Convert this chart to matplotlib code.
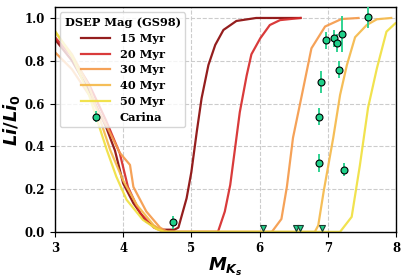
import numpy as np
import matplotlib
matplotlib.use('Agg')
from matplotlib import pyplot as plt

plt.rcParams['mathtext.fontset'] = 'custom'
plt.rcParams['mathtext.it'] = 'DejaVu Sans:italic:bold'
plt.rcParams['mathtext.rm'] = 'DejaVu Sans:bold'
plt.rcParams['mathtext.bf'] = 'DejaVu Sans:bold'

# изохроны DSEP: x = M_Ks, y = Li/Li0
ages = ['15 Myr', '20 Myr', '30 Myr', '40 Myr', '50 Myr']
colors = ['#8b0a0a', '#d62a2a', '#f59a4a', '#f5b94a', '#f0e040']

x15 = [3.0, 3.25, 3.5, 3.75, 3.88, 4.0, 4.15, 4.34, 4.54, 4.62, 4.75, 4.81, 4.93,
       5.0, 5.08, 5.15, 5.25, 5.35, 5.47, 5.66, 5.95, 6.6]
y15 = [0.90, 0.80, 0.66, 0.49, 0.38, 0.227, 0.134, 0.048, 0.01, 0.01, 0.01, 0.02, 0.157,
       0.28, 0.47, 0.625, 0.78, 0.874, 0.944, 0.986, 1.0, 1.0]
x20 = [3.0, 3.25, 3.5, 3.75, 3.95, 4.07, 4.25, 4.45, 4.6, 5.39, 5.49, 5.57, 5.64,
       5.71, 5.81, 5.88, 6.01, 6.15, 6.30, 6.6]
y20 = [0.91, 0.82, 0.69, 0.52, 0.368, 0.21, 0.087, 0.02, 0.0, 0.0, 0.095, 0.22, 0.39,
       0.56, 0.73, 0.83, 0.905, 0.967, 0.99, 1.0]
x30 = [3.0, 3.25, 3.5, 3.75, 3.95, 4.10, 4.15, 4.34, 4.54, 4.65, 6.18, 6.32, 6.40,
       6.49, 6.62, 6.76, 6.96, 7.20, 7.45]
y30 = [0.84, 0.76, 0.64, 0.50, 0.37, 0.313, 0.21, 0.095, 0.02, 0.0, 0.0, 0.06, 0.21,
       0.44, 0.64, 0.858, 0.96, 0.995, 1.0]
x40 = [3.0, 3.25, 3.5, 3.81, 4.0, 4.2, 4.45, 4.6, 6.81, 6.86, 6.94, 7.08, 7.18,
       7.28, 7.40, 7.57, 7.72, 7.93]
y40 = [0.935, 0.83, 0.68, 0.383, 0.24, 0.126, 0.03, 0.0, 0.0, 0.03, 0.19, 0.44, 0.64,
       0.78, 0.91, 0.967, 0.994, 1.0]
x50 = [3.0, 3.25, 3.5, 3.76, 3.90, 4.05, 4.29, 4.49, 4.6, 7.18, 7.35, 7.47, 7.59,
       7.72, 7.86, 7.99]
y50 = [0.94, 0.82, 0.64, 0.383, 0.258, 0.15, 0.056, 0.013, 0.0, 0.0, 0.07, 0.31, 0.58,
       0.765, 0.936, 0.975]
xs = [x15, x20, x30, x40, x50]
ys = [y15, y20, y30, y40, y50]

# скопление Carina: детекции и верхние пределы
mk = [7.59, 6.98, 7.09, 7.13, 7.21, 7.17, 6.90, 6.87, 6.87, 7.24, 4.73]
li = [1.005, 0.896, 0.905, 0.883, 0.925, 0.757, 0.70, 0.539, 0.322, 0.29, 0.045]
li_err = [0.05, 0.04, 0.04, 0.04, 0.085, 0.04, 0.05, 0.04, 0.04, 0.03, 0.03]
mk_lim = [6.05, 6.54, 6.59, 6.92]
li_lim = [0.02, 0.02, 0.02, 0.02]

fig, ax = plt.subplots(figsize=(4.07, 2.8), dpi=100)
fig.subplots_adjust(left=0.135, right=0.973, top=0.974, bottom=0.172)

for x, y, c, lab in zip(xs, ys, colors, ages):
    ax.plot(x, y, color=c, lw=1.6, alpha=0.92, label=lab)

green = '#20d08a'
ax.errorbar(mk, li, yerr=li_err, fmt='o', ms=5, mfc=green, mec='black', mew=0.8,
            ecolor=green, elinewidth=1.3, label='Carina', zorder=5)
ax.plot(mk_lim, li_lim, 'v', ms=5, mfc=green, mec='#1a3a30', mew=0.8, zorder=5)

ax.set_xlim(3, 8)
ax.set_ylim(0, 1.05)
ax.set_xticks([3, 4, 5, 6, 7, 8])
ax.set_yticks([0.0, 0.2, 0.4, 0.6, 0.8, 1.0])
ax.grid(True, color='#cccccc', linestyle='--', lw=0.8)
for lbl in ax.get_xticklabels() + ax.get_yticklabels():
    lbl.set_family('DejaVu Serif')
    lbl.set_fontweight('bold')
    lbl.set_fontsize(8.5)
for s in ax.spines.values():
    s.set_color('black')
    s.set_linewidth(1.0)

ax.set_xlabel(r'$M_{K_s}$', fontsize=13, labelpad=1)
ax.set_ylabel(r'$Li/Li_0$', fontsize=13, labelpad=2)

leg = ax.legend(loc='upper left', title='DSEP Mag (GS98)', framealpha=0.8,
                prop={'family': 'DejaVu Serif', 'weight': 'bold', 'size': 8.2},
                handlelength=2.6, borderpad=0.4, labelspacing=0.42,
                borderaxespad=0.45)
leg.get_title().set_fontfamily('DejaVu Serif')
leg.get_title().set_fontweight('bold')
leg.get_title().set_fontsize(8.2)

fig.savefig('out.png', dpi=100)
